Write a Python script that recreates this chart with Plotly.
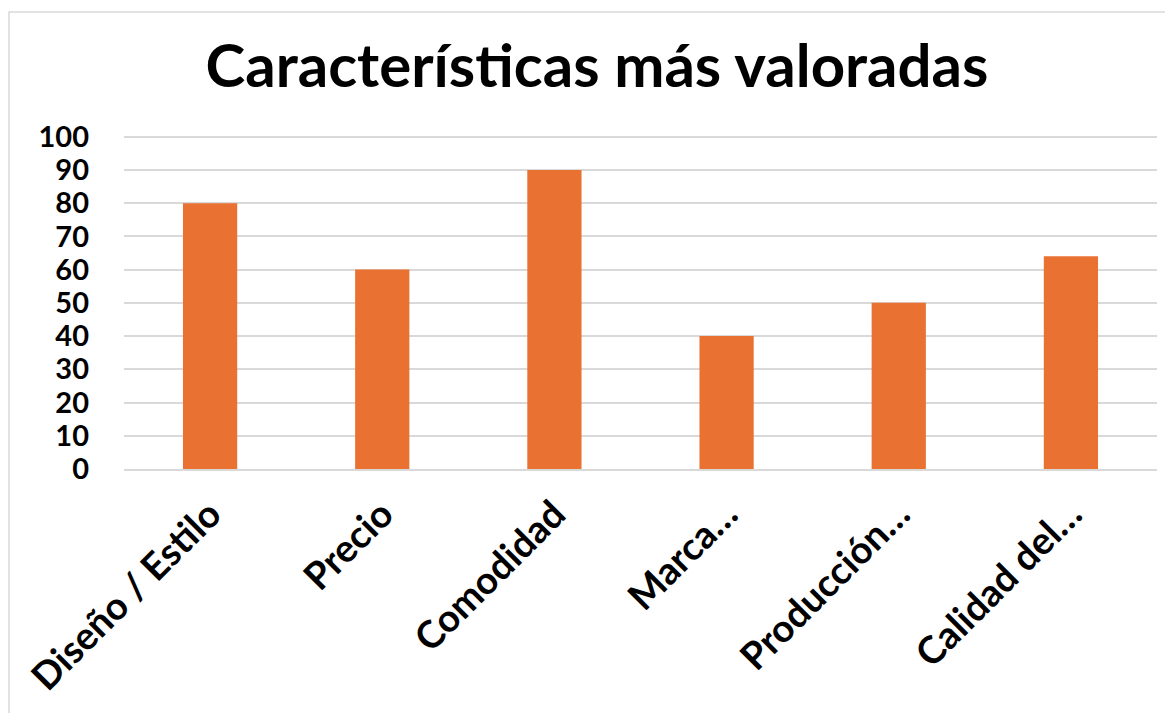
import plotly.graph_objects as go

categories = ["Diseño / Estilo", "Precio", "Comodidad", "Marca…", "Producción…", "Calidad del…"]
values = [80, 60, 90, 40, 50, 64]
y_ticks = [0, 10, 20, 30, 40, 50, 60, 70, 80, 90, 100]
title_text = "Características más valoradas"

W, H = 1173, 713
OFF = 8  # page body margin offset
ml, mr, mt, mb = 124 - OFF, 16 + OFF, 135 - OFF, 244 + OFF
pw, ph = W - ml - mr, H - mt - mb

FONT = "Lato"

fig = go.Figure(go.Bar(x=categories, y=values, marker=dict(color="#E97132", line=dict(width=0)), width=0.315))

# outer chart-area border (left/top visible)
x0 = (9 - OFF - ml) / pw
y1 = 1 + (mt - (12 - OFF)) / ph
fig.add_shape(type="rect", xref="paper", yref="paper", x0=x0, x1=1 + (mr + 20) / pw,
              y0=-(mb + 20) / ph, y1=y1, line=dict(color="#D9D9D9", width=1.5), layer="below")

fig.update_layout(
    width=W, height=H,
    margin=dict(l=ml, r=mr, t=mt, b=mb, autoexpand=False),
    paper_bgcolor="white", plot_bgcolor="white",
    title=dict(text=title_text, x=(597 - OFF) / W, xanchor="center", xref="container",
               y=1 - (66 - OFF) / H, yanchor="middle",
               font=dict(family=FONT, size=60, color="black", weight="bold")),
    showlegend=False,
)
fig.update_yaxes(range=[0, 100.5], tickvals=y_ticks, showgrid=True, gridcolor="#D9D9D9", gridwidth=1.5,
                 zeroline=False, showline=False, ticks="", ticklabelstandoff=34, automargin=False,
                 tickfont=dict(family=FONT, size=29, color="black", weight="bold"))
fig.update_xaxes(tickangle=-45, showline=True, linecolor="#D9D9D9", linewidth=1.5, ticks="", automargin=False,
                 ticklabelstandoff=6,
                 tickfont=dict(family=FONT, size=38, color="black", weight="bold"))

fig.write_html("out.html")
